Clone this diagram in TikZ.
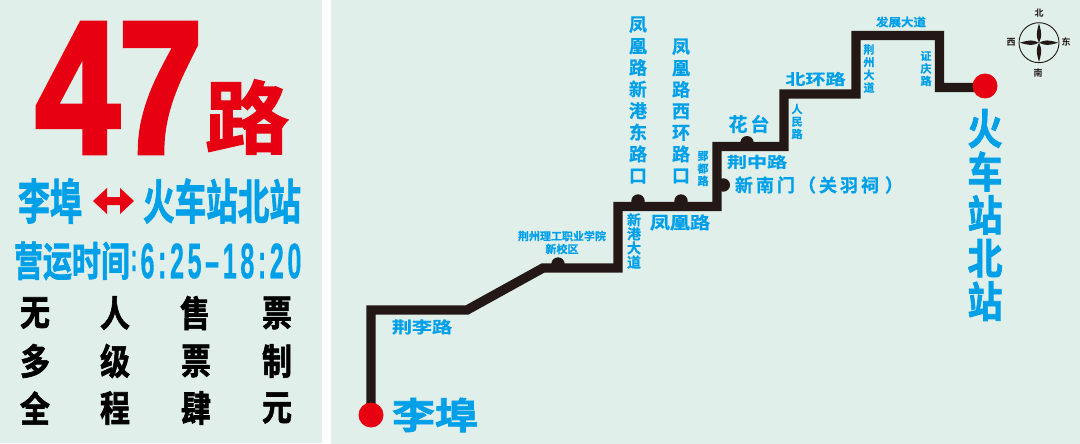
\documentclass[tikz,border=0pt]{standalone}
\usepackage{fontspec}
\usepackage{graphicx}
\setmainfont{Noto Sans CJK SC}
\newfontfamily\cjkb[FakeBold=1.8]{Noto Sans CJK SC Bold}
\newfontfamily\cjkl[FakeBold=.7]{Noto Sans CJK SC Bold}
\newfontfamily\cjkm{Noto Sans CJK SC Bold}
\newfontfamily\latb[FakeBold=3.5]{Liberation Sans Bold}
\newfontfamily\latt[FakeBold=.5,LetterSpace=14]{Liberation Sans Bold}
\definecolor{bgpanel}{HTML}{E0EFE9}
\definecolor{busblue}{HTML}{00A0E9}
\definecolor{busred}{HTML}{E60012}
\definecolor{lineblk}{HTML}{231815}
\newcommand{\fs}[2]{\fontsize{#1pt}{#2pt}\selectfont}
\newcommand{\sq}[3]{\scalebox{#1}[#2]{#3}}
\tikzset{
  every node/.style={inner sep=0pt,outer sep=0pt},
  bluetxt/.style={text=busblue,align=center},
  blacktxt/.style={text=black,font=\cjkb\fs{30}{30}},
  stopdot/.style={circle,fill=lineblk,minimum size=13.4pt},
  termdot/.style={circle,fill=busred,minimum size=25pt},
  routeline/.style={draw=lineblk,line width=9.4pt,miter limit=10},
  panel/.style={fill=bgpanel,draw=none},
  compasstxt/.style={text=lineblk,font=\cjkm\fs{9}{9}}
}
\begin{document}
\begin{tikzpicture}[x=1pt,y=-1pt]
\useasboundingbox (0,0) rectangle (1080,444);
\fill[white] (0,0) rectangle (1080,444);
\fill[panel] (0,0) rectangle (321.5,443);
\fill[panel] (331,0) rectangle (1080,444);

% left panel
\node[text=busred] (n47) at (119,88) {\resizebox{166pt}{128pt}{\latb 47}};
\node[text=busred,font=\cjkb\fs{84}{84}] (lu) at (247,117) {\sq{1}{.95}{路}};
\node[bluetxt,font=\cjkb] (lifu) at (50,201) {\fs{32}{32}\sq{1}{1.5}{李埠}};
\node[bluetxt,font=\cjkb] (hcz) at (222,201) {\fs{31.6}{32}\sq{1}{1.5}{火车站北站}};
\fill[busred] (93,201) -- (107,188) -- (107,197) -- (120,197) -- (120,188) -- (134,201) -- (120,214) -- (120,205) -- (107,205) -- (107,214) -- cycle;
\node[bluetxt,font=\cjkb] (yy) at (72,261) {\fs{29}{29}\sq{1}{1.4}{营运时间}};
\node[text=busblue] (col) at (134,261) {\resizebox{6pt}{20pt}{\latt :}};
\node[text=busblue] (tm) at (221,261) {\resizebox{161pt}{35pt}{\latt 6:25–18:20}};

\node[blacktxt] (a1) at (35,313) {\sq{1}{1.2}{无}};
\node[blacktxt] (a2) at (115,313) {\sq{1}{1.2}{人}};
\node[blacktxt] (a3) at (195,313) {\sq{1}{1.2}{售}};
\node[blacktxt] (a4) at (277,313) {\sq{1}{1.2}{票}};
\node[blacktxt] (b1) at (35,361) {\sq{1}{1.2}{多}};
\node[blacktxt] (b2) at (115,361) {\sq{1}{1.2}{级}};
\node[blacktxt] (b3) at (196,361) {\sq{1}{1.2}{票}};
\node[blacktxt] (b4) at (277,361) {\sq{1}{1.2}{制}};
\node[blacktxt] (c1) at (35,408) {\sq{1}{1.2}{全}};
\node[blacktxt] (c2) at (115,408) {\sq{1}{1.2}{程}};
\node[blacktxt] (c3) at (196,408) {\sq{1}{1.2}{肆}};
\node[blacktxt] (c4) at (277,408) {\sq{1}{1.2}{元}};

% route
\coordinate (r0) at (371,415);
\coordinate (r1) at (371,310);
\coordinate (r2) at (467,310);
\coordinate (r3) at (543,268);
\coordinate (r4) at (618,268);
\coordinate (r5) at (618,206.5);
\coordinate (r6) at (717,206.5);
\coordinate (r7) at (717,146.5);
\coordinate (r8) at (784,146.5);
\coordinate (r9) at (784,94);
\coordinate (r10) at (856,94);
\coordinate (r11) at (856,35.5);
\coordinate (r12) at (939.5,35.5);
\coordinate (r13) at (939.5,87.5);
\coordinate (r14) at (985,87.5);
\draw[routeline] (r0) -- (r1) -- (r2) -- (r3) -- (r4) -- (r5) -- (r6) -- (r7) -- (r8) -- (r9) -- (r10) -- (r11) -- (r12) -- (r13) -- (r14);
\node[termdot] (start) at (371,415) {};
\node[termdot] (end) at (985,86) {};
\node[stopdot] (s1) at (558,264) {};
\node[stopdot] (s2) at (638,201) {};
\node[stopdot] (s3) at (681,201) {};
\node[stopdot] (s4) at (723.3,185) {};
\node[stopdot] (s5) at (747,142.7) {};

% labels
\node[bluetxt,font=\cjkl\fs{20}{20}] (jl) at (422,327) {\sq{1}{.8}{荆李路}};
\node[bluetxt,font=\cjkb\fs{43}{43}] (lf2) at (435,415) {\sq{1}{.85}{李埠}};
\node[bluetxt,font=\cjkl\fs{11}{13}] (lg) at (562,242.5) {荆州理工职业学院\\新校区};
\node[bluetxt,font=\cjkl\fs{14}{12.6}] (xg) at (634,241) {新\\港\\大\\道};
\node[bluetxt,font=\cjkl\fs{20}{20}] (fh) at (680,222.5) {\sq{1}{.85}{凤凰路}};
\node[bluetxt,font=\cjkl\fs{18}{21.6}] (f1) at (638,100) {凤\\凰\\路\\新\\港\\东\\路\\口};
\node[bluetxt,font=\cjkl\fs{18}{21.5}] (f2) at (681,111) {凤\\凰\\路\\西\\环\\路\\口};
\node[bluetxt,font=\cjkl\fs{11}{12.5}] (yd) at (703,168.5) {郢\\都\\路};
\node[bluetxt,font=\cjkl\fs{19}{19}] (ht) at (749,124) {花\hspace{3pt}台};
\node[bluetxt,font=\cjkl\fs{20}{20}] (jz) at (757,162) {\sq{1}{.75}{荆中路}};
\node[bluetxt,font=\cjkl\fs{18}{18},anchor=west] (xn) at (735,185) {新\hspace{3pt}南\hspace{3pt}门\hspace{3pt}（\hspace{3pt}关\hspace{3pt}羽\hspace{3pt}祠\hspace{3pt}\hspace{3pt}）};
\node[bluetxt,font=\cjkl\fs{11}{12.5}] (rm) at (797,121.5) {人\\民\\路};
\node[bluetxt,font=\cjkl\fs{20}{20}] (bh) at (815.5,79) {\sq{1}{.75}{北环路}};
\node[bluetxt,font=\cjkl\fs{11}{12.7}] (jd) at (869,68.5) {荆\\州\\大\\道};
\node[bluetxt,font=\cjkl\fs{12.5}{12.5}] (fz) at (901,22) {\sq{1}{.9}{发展大道}};
\node[bluetxt,font=\cjkl\fs{11}{12.5}] (zq) at (926,68.5) {证\\庆\\路};
\node[bluetxt] (hv) at (985,215) {\sq{1}{1.2}{\parbox{36pt}{\centering\cjkb\fs{35}{36}火\\车\\站\\北\\站}}};

% compass
\draw[lineblk,line width=.9pt] (1039,42.7) circle (20);
\foreach \a in {0,90,180,270}{
  \fill[lineblk,rotate around={\a:(1039,42.7)}] (1039,42.7) .. controls (1042,36) and (1042,34) .. (1039,23.5) .. controls (1036,34) and (1036,36) .. (1039,42.7) -- cycle;
}
\node[compasstxt] (cn) at (1039,13) {北};
\node[compasstxt] (cs) at (1038,73) {南};
\node[compasstxt] (cw) at (1011,42) {西};
\node[compasstxt] (ce) at (1066,42) {东};
\end{tikzpicture}
\end{document}
